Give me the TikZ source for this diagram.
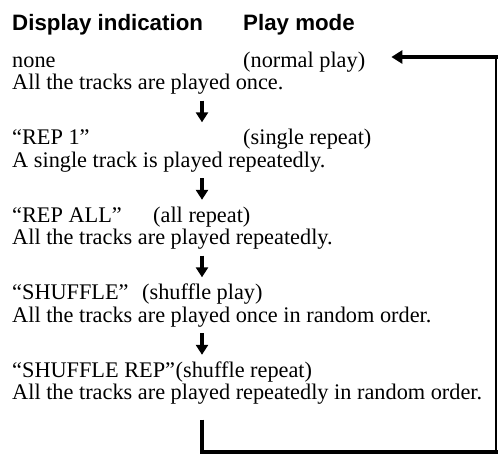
\documentclass[tikz,border=0pt]{standalone}
\usepackage{fontspec}
\setmainfont{Liberation Serif}
\setsansfont{Liberation Sans}
\usetikzlibrary{arrows.meta}
\begin{document}
\begin{tikzpicture}[x=1pt,y=-1pt,
  txt/.style={anchor=base west,inner sep=0pt,text height=15pt,text depth=5pt,font=\fontsize{22.3}{26}\selectfont},
  head/.style={txt,font=\sffamily\bfseries\fontsize{22.3}{26}\selectfont},
  dn/.style={line width=3.5pt,-{Triangle[width=12pt,length=10pt]},shorten <=6pt,shorten >=7pt},
  back/.style={line width=3.5pt}]
\useasboundingbox (0,0) rectangle (498,466);

\node [head] (hd) at (12,30) {Display indication};
\node [head] (hm) at (243,30) {Play mode};

\node [txt] (disp0) at (12,67) {none};
\node [txt] (mode0) at (243,67) {(normal play)};
\node [txt] (desc0) at (12,89.5) {All the tracks are played once.};

\node [txt] (disp1) at (12,144.5) {“REP 1”};
\node [txt] (mode1) at (243,144.5) {(single repeat)};
\node [txt] (desc1) at (12,167) {A single track is played repeatedly.};

\node [txt] (disp2) at (12,222) {“REP ALL”};
\node [txt] (mode2) at (153,222) {(all repeat)};
\node [txt] (desc2) at (12,244.5) {All the tracks are played repeatedly.};

\node [txt] (disp3) at (12,299.5) {“SHUFFLE”};
\node [txt] (mode3) at (142,299.5) {(shuffle play)};
\node [txt] (desc3) at (12,322) {All the tracks are played once in random order.};

\node [txt] (disp4) at (12,377) {“SHUFFLE REP”};
\node [txt] (mode4) at (175.5,377) {(shuffle repeat)};
\node [txt] (desc4) at (12,399.5) {All the tracks are played repeatedly in random order.};

\coordinate (axis) at (202,0);
\foreach \a/\b in {0/1,1/2,2/3,3/4}
  \draw [dn] (desc\a.south -| axis) to (disp\b.north -| axis);

% back to the top
\coordinate (br) at (498,452);
\coordinate (tr) at (498,57);
\draw [back,shorten <=15pt] (desc4.south -| axis) |- (br);
\draw [line width=1.2pt] ([xshift=-2pt]br) to ([xshift=-2pt]tr);
\draw [back,-{Triangle[width=13pt,length=11pt]},shorten >=26pt] (tr) to (tr -| mode0.east);
\end{tikzpicture}
\end{document}
